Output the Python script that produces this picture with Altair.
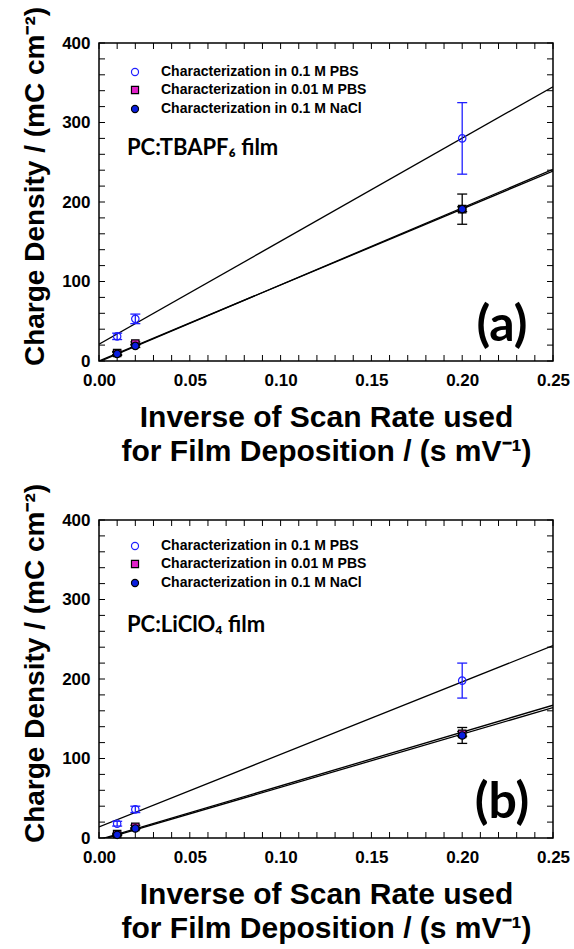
import altair as alt
import pandas as pd

# ---------------- data ----------------
x_vals = [0.01, 0.02, 0.20]
series_names = ["Characterization in 0.1 M PBS",
                "Characterization in 0.01 M PBS",
                "Characterization in 0.1 M NaCl"]

# panel (a) PC:TBAPF6 film
a_pbs01 = [31, 53, 280]
a_pbs01_err = [4, 6, 45]
a_pbs001 = [10, 22, 191]
a_pbs001_err = [2, 2, 3]
a_nacl = [9, 19, 191]
a_nacl_err = [2, 2, 19]

# panel (b) PC:LiClO4 film
b_pbs01 = [18, 36, 198]
b_pbs01_err = [3, 4, 22]
b_pbs001 = [5, 14, 131]
b_pbs001_err = [1, 2, 3]
b_nacl = [4, 12, 129]
b_nacl_err = [1, 1, 10]

# linear-fit line end values at x = 0 and x = 0.25
line_x = [0.0, 0.25]
a_fit_pbs01 = [21, 345]
a_fit_pbs001 = [0, 239]
a_fit_nacl = [-1, 241]
b_fit_pbs01 = [14, 242]
b_fit_pbs001 = [-2, 167]
b_fit_nacl = [-3, 164]

x_label_values = [0.0, 0.05, 0.10, 0.15, 0.20, 0.25]
x_minor_ticks = [0.00, 0.01, 0.02, 0.03, 0.04, 0.05, 0.06, 0.07, 0.08, 0.09,
                 0.10, 0.11, 0.12, 0.13, 0.14, 0.15, 0.16, 0.17, 0.18, 0.19,
                 0.20, 0.21, 0.22, 0.23, 0.24, 0.25]
y_label_values = [0, 100, 200, 300, 400]
y_minor_ticks = [0, 20, 40, 60, 80, 100, 120, 140, 160, 180, 200,
                 220, 240, 260, 280, 300, 320, 340, 360, 380, 400]

x_title = ["Inverse of Scan Rate used", "for Film Deposition / (s mV\u207b\u00b9)"]
y_title = "Charge Density / (mC cm\u207b\u00b2)"

# ---------------- styling ----------------
W, H = 454, 318
FONT = "Liberation Sans"
blue = "#1f1fff"
magenta = "#e020c8"

stroke_range = [blue, "black", "black"]
fill_range = ["transparent", magenta, "#0a1ee0"]
shape_range = ["circle", "square", "circle"]
err_range = [blue, "black", "black"]

xs = alt.Scale(domain=[0, 0.25], nice=False, zero=False)
ys = alt.Scale(domain=[0, 400], nice=False)

xaxis = alt.Axis(values=x_label_values, format=".2f", ticks=False, grid=False,
                 labelFont=FONT, labelFontSize=17, labelFontWeight="bold",
                 labelColor="black", labelPadding=11, domain=False,
                 labelFlush=False, labelOverlap=False,
                 title=x_title, titleFont=FONT, titleFontSize=30,
                 titleFontWeight="bold", titleColor="black",
                 titleLineHeight=34, titlePadding=14)
yaxis = alt.Axis(values=y_label_values, ticks=False, grid=False,
                 labelFont=FONT, labelFontSize=17, labelFontWeight="bold",
                 labelColor="black", labelPadding=9, domain=False,
                 labelFlush=False, labelOverlap=False,
                 title=y_title, titleFont=FONT, titleFontSize=28,
                 titleFontWeight="bold", titleColor="black",
                 titlePadding=12, titleY=143)


def X(field):
    return alt.X(field, type="quantitative", scale=xs, axis=xaxis)


def Y(field):
    return alt.Y(field, type="quantitative", scale=ys, axis=yaxis)


def panel(p1, e1, p2, e2, p3, e3, f1, f2, f3, film, tag, legend_rows):
    pts = pd.DataFrame({
        "x": x_vals * 3,
        "y": p1 + p2 + p3,
        "err": e1 + e2 + e3,
        "series": [series_names[0]] * 3 + [series_names[1]] * 3 + [series_names[2]] * 3,
    })
    pts["lo"] = pts["y"] - pts["err"]
    pts["hi"] = pts["y"] + pts["err"]
    fits = pd.DataFrame({
        "x": line_x * 3,
        "y": f1 + f2 + f3,
        "series": [series_names[0]] * 2 + [series_names[1]] * 2 + [series_names[2]] * 2,
    })
    cdom = alt.Scale(domain=series_names, range=err_range)

    lines = alt.Chart(fits).mark_line(color="black", strokeWidth=1.3, clip=True).encode(
        x=X("x"), y=Y("y"), detail="series:N")

    ebar = alt.Chart(pts).mark_rule(strokeWidth=1.3).encode(
        x=X("x"), y=Y("lo"), y2="hi",
        color=alt.Color("series:N", scale=cdom, legend=None))
    cap_lo = alt.Chart(pts).mark_rule(strokeWidth=1.3, xOffset=-5, x2Offset=5).encode(
        x=X("x"), x2="x", y=Y("lo"),
        color=alt.Color("series:N", scale=cdom, legend=None))
    cap_hi = alt.Chart(pts).mark_rule(strokeWidth=1.3, xOffset=-5, x2Offset=5).encode(
        x=X("x"), x2="x", y=Y("hi"),
        color=alt.Color("series:N", scale=cdom, legend=None))

    points = alt.Chart(pts).mark_point(size=55, strokeWidth=1.2, opacity=1).encode(
        x=X("x"), y=Y("y"),
        stroke=alt.Stroke("series:N", scale=alt.Scale(domain=series_names, range=stroke_range), legend=None),
        fill=alt.Fill("series:N", scale=alt.Scale(domain=series_names, range=fill_range), legend=None),
        shape=alt.Shape("series:N", scale=alt.Scale(domain=series_names, range=shape_range), legend=None),
    )

    ydf = pd.DataFrame({"v": y_minor_ticks})
    xdf = pd.DataFrame({"v": x_minor_ticks})
    tl = alt.Chart(ydf).mark_rule(color="black", strokeWidth=1).encode(
        y=Y("v"), x=alt.value(0), x2=alt.value(6))
    tr = alt.Chart(ydf).mark_rule(color="black", strokeWidth=1).encode(
        y=Y("v"), x=alt.value(W), x2=alt.value(W - 6))
    tb = alt.Chart(xdf).mark_rule(color="black", strokeWidth=1).encode(
        x=X("v"), y=alt.value(H), y2=alt.value(H - 6))
    tt = alt.Chart(xdf).mark_rule(color="black", strokeWidth=1).encode(
        x=X("v"), y=alt.value(0), y2=alt.value(6))

    # in-plot legend (symbol + label per series)
    leg_layers = []
    for i, name in enumerate(series_names):
        d = pd.DataFrame({"t": [name]})
        leg_layers.append(alt.Chart(d).mark_point(
            shape=shape_range[i], fill=fill_range[i], stroke=stroke_range[i],
            size=50, strokeWidth=1.2, opacity=1).encode(
            x=alt.value(36), y=alt.value(legend_rows[i])))
        leg_layers.append(alt.Chart(d).mark_text(
            font=FONT, fontSize=14, fontWeight="bold", align="left",
            baseline="middle", color="black").encode(
            text="t:N", x=alt.value(62), y=alt.value(legend_rows[i])))

    film_txt = alt.Chart(pd.DataFrame({"t": [film]})).mark_text(
        font="Lato", fontSize=22, fontWeight="bold", align="left",
        baseline="middle", color="black").encode(
        text="t:N", x=alt.value(28), y=alt.value(105))
    tag_txt = alt.Chart(pd.DataFrame({"t": [tag]})).mark_text(
        font="Lato", fontSize=50, fontWeight="bold", align="center",
        baseline="middle", color="black").encode(
        text="t:N", x=alt.value(403), y=alt.value(283))

    return alt.layer(tl, tr, tb, tt, lines, ebar, cap_lo, cap_hi, points,
                     *leg_layers, film_txt, tag_txt).properties(width=W, height=H)


pa = panel(a_pbs01, a_pbs01_err, a_pbs001, a_pbs001_err, a_nacl, a_nacl_err,
           a_fit_pbs01, a_fit_pbs001, a_fit_nacl, "PC:TBAPF\u2086 film", "(a)",
           [29, 47, 66])
pb = panel(b_pbs01, b_pbs01_err, b_pbs001, b_pbs001_err, b_nacl, b_nacl_err,
           b_fit_pbs01, b_fit_pbs001, b_fit_nacl, "PC:LiClO\u2084 film", "(b)",
           [26, 44, 63])

chart = alt.vconcat(pa, pb, spacing=15).properties(
    padding={"left": 20, "top": 5, "right": 0, "bottom": 0},
    background="white",
).configure_view(stroke="black", strokeWidth=1.5)

chart.save("out.html", embed_options={"renderer": "svg", "actions": False})
